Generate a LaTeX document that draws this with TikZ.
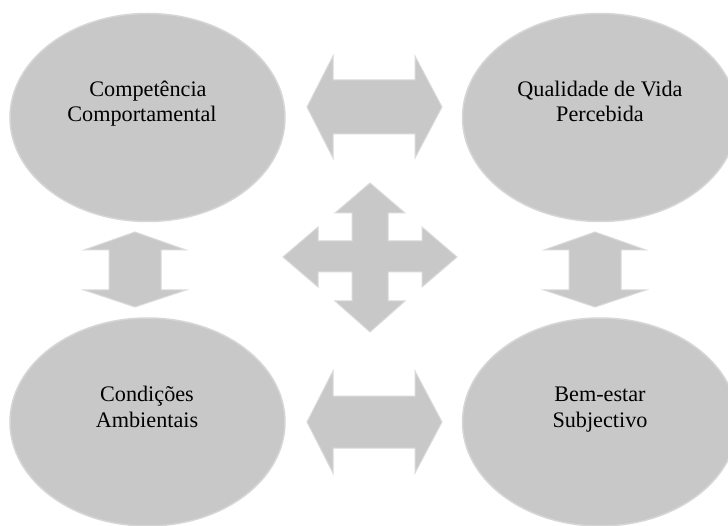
\documentclass[tikz,border=0pt]{standalone}
\usepackage{fontspec}
\setmainfont{Liberation Serif}
\usetikzlibrary{shapes.geometric}
\definecolor{blobfill}{RGB}{200,200,200}
\definecolor{blobedge}{RGB}{214,214,214}
\definecolor{arrfill}{RGB}{200,200,200}
\definecolor{arredge}{RGB}{218,218,218}
\tikzset{
  blob/.style={ellipse, fill=blobfill, draw=blobedge, line width=1.5pt,
    minimum width=275pt, minimum height=208pt, inner sep=0pt},
  lbl/.style={align=center, inner sep=0pt, text=black,
    font=\fontsize{22.2}{25}\selectfont},
  arrowshape/.style={fill=arrfill, draw=arredge, line width=1pt, line join=miter}
}
\begin{document}
\begin{tikzpicture}[x=1pt,y=-1pt]
\useasboundingbox (0,0) rectangle (728,526);
\fill[white] (0,0) rectangle (728,526);
% ellipses
\node[blob] (cc) at (147.5,117.5) {};
\node[blob] (qv) at (600,117.5) {};
\node[blob] (ca) at (147.5,422) {};
\node[blob] (be) at (600,422) {};
% labels
\node[lbl, anchor=base] (cct) at (148,97) {Competência};
\node[lbl, anchor=base] (cct2) at (142,122) {Comportamental};
\node[lbl, anchor=base] (qvt) at (600,97) {Qualidade de Vida};
\node[lbl, anchor=base] (qvt2) at (600,122) {Percebida};
\node[lbl, anchor=base] (cat) at (147,402) {Condições};
\node[lbl, anchor=base] (cat2) at (147,427) {Ambientais};
\node[lbl, anchor=base] (bet) at (600,402) {Bem-estar};
\node[lbl, anchor=base] (bet2) at (600,427) {Subjectivo};
% horizontal double arrows
\draw[arrowshape] (307,107) -- (333,56) -- (333,80) -- (415,80) -- (415,56) -- (442,107)
  -- (415,158) -- (415,134) -- (333,134) -- (333,158) -- cycle;
\draw[arrowshape] (307,422) -- (333,371) -- (333,396) -- (415,396) -- (415,371) -- (442,422)
  -- (415,473) -- (415,448) -- (333,448) -- (333,473) -- cycle;
% vertical double arrows
\draw[arrowshape] (135,232) -- (186,250) -- (161,250) -- (161,290) -- (186,290) -- (135,307)
  -- (84,290) -- (109,290) -- (109,250) -- (84,250) -- cycle;
\draw[arrowshape] (595,232) -- (646,250) -- (621,250) -- (621,290) -- (646,290) -- (595,307)
  -- (544,290) -- (569,290) -- (569,250) -- (544,250) -- cycle;
% central four-way arrow
\draw[arrowshape] (370,183) -- (405,213) -- (388,213) -- (388,241) -- (422,241) -- (422,227)
  -- (457,257) -- (422,287) -- (422,272) -- (388,272) -- (388,301) -- (405,301)
  -- (370,332) -- (335,301) -- (352,301) -- (352,272) -- (318,272) -- (318,287)
  -- (283,257) -- (318,227) -- (318,241) -- (352,241) -- (352,213) -- (335,213) -- cycle;
\end{tikzpicture}
\end{document}
